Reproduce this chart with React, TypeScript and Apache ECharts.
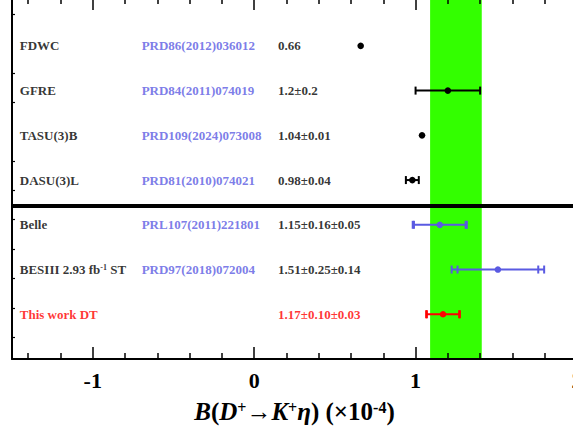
import React, { useEffect, useRef } from 'react';
import * as echarts from 'echarts';

// ---- data ----
const names = ['FDWC', 'GFRE', 'TASU(3)B', 'DASU(3)L', 'Belle', 'BESIII 2.93 fb{sup|-1} ST', 'This work DT'];
const refs = ['PRD86(2012)036012', 'PRD84(2011)074019', 'PRD109(2024)073008', 'PRD81(2010)074021', 'PRL107(2011)221801', 'PRD97(2018)072004', ''];
const valueTexts = ['0.66', '1.2±0.2', '1.04±0.01', '0.98±0.04', '1.15±0.16±0.05', '1.51±0.25±0.14', '1.17±0.10±0.03'];
const centrals = [0.66, 1.2, 1.04, 0.98, 1.15, 1.51, 1.17];
const statErrs = [0, 0.2, 0.01, 0.04, 0.16, 0.25, 0.10];
const systErrs = [0, 0, 0, 0, 0.05, 0.14, 0.03];
const kinds = ['theory', 'theory', 'theory', 'theory', 'exp', 'exp', 'this'];
const rowPositions = [7, 6, 5, 4, 3, 2, 1];
const averageBand = [1.09, 1.41];
const dividerY = 3.42;
const xMajorTicks = [-1, 0, 1, 2];
const xMinorTicks = [-1.4, -1.2, -0.8, -0.6, -0.4, -0.2, 0.2, 0.4, 0.6, 0.8, 1.2, 1.4, 1.6, 1.8];
const yTicks = [0.485, 1.142, 1.799, 2.456, 3.113, 3.77, 4.427, 5.741, 6.398, 7.712];
const columnX = { name: -1.455, ref: -0.7, value: 0.145 };

const FONT = 'Liberation Serif';
const BLUE = '#5a5ae2';
const colorOf = (k: string) => (k === 'this' ? '#ff0000' : k === 'exp' ? BLUE : '#000000');

export default function App() {
  const ref = useRef<HTMLDivElement>(null);
  useEffect(() => {
    if (!ref.current) return;
    const chart = echarts.init(ref.current, undefined, { renderer: 'svg' });
    const X_MIN = -1.5, X_MAX = 2;
    const baseX = {
      type: 'value', min: X_MIN, max: X_MAX, z: 6,
      splitLine: { show: false },
    };
    const lineStyle = { color: '#000', width: 2 };
    const textStyleBase = { fontFamily: FONT, fontWeight: 'bold', fontSize: 13 };
    const rows = names.map((_, i) => i);
    const textSeries = (key: 'name' | 'ref' | 'value', texts: string[]) => ({
      type: 'scatter',
      silent: true,
      z: 4,
      symbolSize: 1,
      itemStyle: { color: 'rgba(0,0,0,0)' },
      data: rows.map((i) => ({
        value: [columnX[key], rowPositions[i]],
        label: { color: key === 'ref' ? BLUE : colorOf(kinds[i] === 'exp' ? 'theory' : kinds[i]) },
      })),
      label: {
        show: true,
        position: 'right',
        distance: 0,
        ...textStyleBase,
        formatter: (p: any) => texts[p.dataIndex],
        rich: {
          sup: { ...textStyleBase, fontSize: 8, verticalAlign: 'top' },
        },
      },
    });

    chart.setOption({
      animation: false,
      grid: { left: 12, right: -4, top: -2, bottom: 80, containLabel: false, outerBoundsMode: 'none' },
      xAxis: [
        {
          ...baseX,
          position: 'bottom',
          axisLine: { show: true, onZero: false, lineStyle },
          axisTick: { show: true, inside: true, length: 12, customValues: xMajorTicks, lineStyle: { color: '#000', width: 1.5 } },
          axisLabel: {
            show: true, customValues: xMajorTicks, margin: 10,
            fontFamily: FONT, fontWeight: 'bold', fontSize: 22, color: '#000',
            formatter: (v: number) => String(v),
          },
          name: '{i|B}{r|(}{i|D}{s|+}{r|→}{i|K}{s|+}{i|η}{r|) (×10}{s|-4}{r|)}',
          nameLocation: 'middle',
          nameGap: 40,
          nameTextStyle: {
            fontFamily: FONT, fontWeight: 'bold', fontSize: 25, color: '#000',
            rich: {
              i: { fontFamily: FONT, fontWeight: 'bold', fontStyle: 'italic', fontSize: 25, color: '#000' },
              r: { fontFamily: FONT, fontWeight: 'bold', fontSize: 25, color: '#000' },
              s: { fontFamily: FONT, fontWeight: 'bold', fontSize: 16, color: '#000', verticalAlign: 'top' },
            },
          },
        },
        {
          ...baseX,
          position: 'bottom',
          axisLine: { show: false, onZero: false },
          axisTick: { show: true, inside: true, length: 6, customValues: xMinorTicks, lineStyle: { color: '#000', width: 1.5 } },
          axisLabel: { show: false },
        },
        {
          ...baseX,
          position: 'top',
          axisLine: { show: true, onZero: false, lineStyle },
          axisTick: { show: true, inside: true, length: 12, customValues: xMajorTicks, lineStyle: { color: '#000', width: 1.5 } },
          axisLabel: { show: false },
        },
        {
          ...baseX,
          position: 'top',
          axisLine: { show: false, onZero: false },
          axisTick: { show: true, inside: true, length: 6, customValues: xMinorTicks, lineStyle: { color: '#000', width: 1.5 } },
          axisLabel: { show: false },
        },
      ],
      yAxis: [
        {
          type: 'value', min: 0, max: 8.07, z: 6,
          position: 'left',
          splitLine: { show: false },
          axisLine: { show: true, onZero: false, lineStyle },
          axisTick: { show: true, inside: true, length: 3, customValues: yTicks, lineStyle: { color: '#000', width: 1.2 } },
          axisLabel: { show: false },
        },
      ],
      series: [
        {
          type: 'line',
          data: [],
          z: 1,
          silent: true,
          markArea: {
            silent: true,
            itemStyle: { color: '#33ff00', opacity: 1 },
            data: [[{ xAxis: averageBand[0] }, { xAxis: averageBand[1] }]],
          },
          markLine: {
            silent: true,
            symbol: ['none', 'none'],
            label: { show: false },
            lineStyle: { color: '#000', width: 4, type: 'solid' },
            data: [{ yAxis: dividerY }],
          },
        },
        {
          type: 'custom',
          z: 8,
          silent: true,
          encode: { x: 1, y: 0 },
          data: rows.map((i) => [rowPositions[i], centrals[i], statErrs[i], systErrs[i], i]),
          renderItem: (params: any, api: any) => {
            const y = api.value(0);
            const c = api.value(1);
            const s = api.value(2);
            const sy = api.value(3);
            const idx = api.value(4);
            const color = colorOf(kinds[idx]);
            const tot = Math.sqrt(s * s + sy * sy);
            const children: any[] = [];
            const capH = 4;
            const r = 3.3;
            const pc = api.coord([c, y]);
            const pR = api.coord([c + tot, y]);
            // error bars narrower than the marker are hidden beneath it
            if (tot > 0 && pR[0] - pc[0] > r) {
              const pL = api.coord([c - tot, y]);
              children.push({ type: 'line', shape: { x1: pL[0], y1: pL[1], x2: pR[0], y2: pR[1] }, style: { stroke: color, lineWidth: 2 } });
              const caps = [c - s, c + s];
              if (sy > 0) caps.push(c - tot, c + tot);
              caps.forEach((v) => {
                const p = api.coord([v, y]);
                children.push({ type: 'line', shape: { x1: p[0], y1: p[1] - capH, x2: p[0], y2: p[1] + capH }, style: { stroke: color, lineWidth: 2 } });
              });
            }
            children.push({ type: 'circle', shape: { cx: pc[0], cy: pc[1], r }, style: { fill: color } });
            return { type: 'group', children };
          },
        },
        textSeries('name', names),
        textSeries('ref', refs),
        textSeries('value', valueTexts),
      ],
    });
    return () => chart.dispose();
  }, []);
  return (
    <div
      ref={ref}
      style={{ position: 'absolute', left: 0, top: 0, width: 573, height: 439, background: '#fff' }}
    />
  );
}
